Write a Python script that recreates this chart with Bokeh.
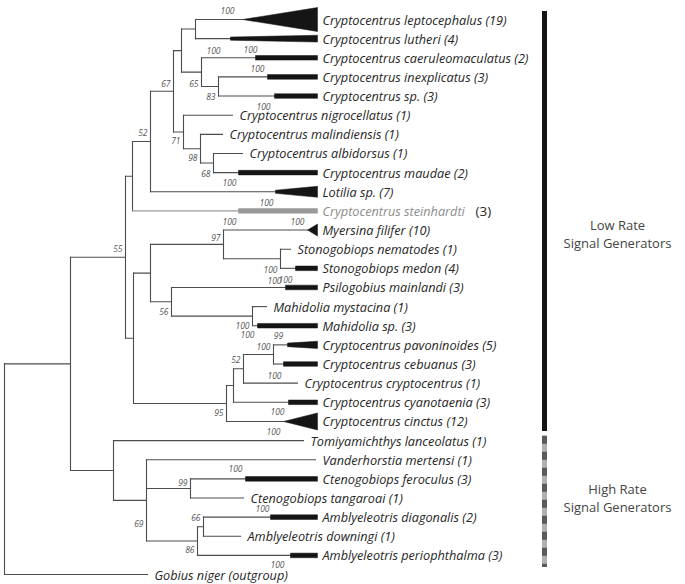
from bokeh.plotting import figure
from bokeh.models import Range1d, ColumnDataSource
from bokeh.core.properties import value
from bokeh.embed import file_html
from bokeh.resources import INLINE

# ---------------- data ----------------
taxa = ["Cryptocentrus leptocephalus", "Cryptocentrus lutheri", "Cryptocentrus caeruleomaculatus",
        "Cryptocentrus inexplicatus", "Cryptocentrus sp.", "Cryptocentrus nigrocellatus",
        "Cryptocentrus malindiensis", "Cryptocentrus albidorsus", "Cryptocentrus maudae",
        "Lotilia sp.", "Cryptocentrus steinhardti", "Myersina filifer", "Stonogobiops nematodes",
        "Stonogobiops medon", "Psilogobius mainlandi", "Mahidolia mystacina", "Mahidolia sp.",
        "Cryptocentrus pavoninoides", "Cryptocentrus cebuanus", "Cryptocentrus cryptocentrus",
        "Cryptocentrus cyanotaenia", "Cryptocentrus cinctus", "Tomiyamichthys lanceolatus",
        "Vanderhorstia mertensi", "Ctenogobiops feroculus", "Ctenogobiops tangaroai",
        "Amblyeleotris diagonalis", "Amblyeleotris downingi", "Amblyeleotris periophthalma",
        "Gobius niger"]
n_seq = [19, 4, 2, 3, 3, 1, 1, 1, 2, 7, 3, 10, 1, 4, 3, 1, 3, 5, 3, 1, 3, 12, 1, 1, 3, 1, 2, 1, 3, None]
# depth (horizontal position) where each tip's thin branch ends
tip_depth = [242, 230, 255, 267, 274, 232, 222, 242, 238, 275, 238, 307, 290, 295, 285, 266, 257,
             287, 283, 297, 288, 283, 303, 315, 245, 243, 270, 240, 290, 147]
clade_shape = ["tri", "bar", "bar", "bar", "bar", "", "", "", "bar", "bar", "bar", "tri", "", "bar",
               "bar", "", "bar", "bar", "bar", "", "bar", "tri", "", "", "bar", "", "bar", "", "bar", ""]
tip_support = [100, 100, 100, 100, 100, None, None, None, 100, 100, 100, 100, None, 100, 100, None,
               100, 99, 100, None, 100, 100, None, None, 100, None, 100, None, 100, None]

node_ids = ["A", "B", "C", "D", "E", "F", "G", "H", "I", "J", "K", "L", "M", "N", "O", "P", "Q",
            "R", "S", "T", "U", "V", "W", "X", "Y", "Z", "AA", "ROOT"]
node_depth = [195, 218, 201, 181, 213, 200, 183, 173, 150, 132, 280, 223, 252, 171, 150, 273, 243,
              233, 226, 133, 125, 190, 203, 197, 146, 113, 70, 4]
node_kids = [[0, 1], [3, 4], [2, "B"], ["A", "C"], [7, 8], [6, "E"], [5, "F"], ["D", "G"], ["H", 9],
             ["I", 10], [12, 13], [11, "K"], [15, 16], [14, "M"], ["L", "N"], [17, 18], ["P", 19],
             ["Q", 20], ["R", 21], ["O", "S"], ["J", "T"], [24, 25], [26, 27], ["W", 28],
             [23, "V", "X"], [22, "Y"], ["U", "Z"], ["AA", 29]]
node_support = [None, 83, 65, None, 68, 98, 71, 67, 52, None, 100, 97, 100, 56, None, 100, 52,
                None, 95, None, 55, 99, 66, 86, 69, None, None, None]

group_line1 = ["Low Rate", "High Rate"]
group_line2 = ["Signal Generators", "Signal Generators"]
group_first = [0, 22]
group_last = [21, 28]

# ---------------- layout / style ----------------
ROW_TOP_PX, ROW_STEP_PX = 19.0, 19.14
def px(h):
    return h / ROW_STEP_PX

W, H = 685, 584
CLADE_END = 317
LINE_COL = "#4d4d4d"
TEXT_COL = "#262626"
GRAY = "#8c8c8c"
FONT = value("Open Sans")

clade_half = {0: (0, 12), 1: (1.6, 3.4), 9: (1.6, 5.5), 11: (0, 6), 17: (1.8, 3.6), 21: (0, 8.5)}
bar_half = (2.3, 2.3)
# support label offsets (px) relative to tip start / node
tip_sup_off = {0: (-15, -9), 1: (-17, 12), 2: (-5, -8), 3: (-10, -8), 4: (-11, 10), 8: (-9, 10),
               9: (-9, 11), 10: (-9, 11), 11: (-10, -9), 13: (-21, 12), 14: (0, -8), 16: (-10, 9),
               17: (-9, -9), 18: (-9, 11), 20: (-11, 9), 21: (-10, 10), 24: (-10, -10),
               26: (-8, -9), 28: (-13, 9)}
node_sup_off = {"B": 10.5, "C": 11, "E": 10.5, "F": 9, "G": 9, "H": -7.5, "I": -9, "K": 10.5,
                "L": -7, "M": 9.5, "N": 10, "P": -7.5, "Q": -9, "S": 9.5, "U": -9, "V": -5.5,
                "W": -9, "X": 8.5, "Y": 23}
group_text_off = [14, 0]

p = figure(width=W, height=H, x_range=Range1d(0, W),
           y_range=Range1d((H - ROW_TOP_PX) / ROW_STEP_PX, (0 - ROW_TOP_PX) / ROW_STEP_PX),
           x_axis_type=None, y_axis_type=None, output_backend="svg", toolbar_location=None,
           min_border=0)
p.grid.visible = False
p.outline_line_color = None

# ---- tree geometry ----
depth = {i: d for i, d in enumerate(tip_depth)}
kids = {}
for nid, d, k in zip(node_ids, node_depth, node_kids):
    depth[nid] = d
    kids[nid] = k
ypos = {i: float(i) for i in range(len(taxa))}

def gety(n):
    if n in ypos:
        return ypos[n]
    ys = [gety(c) for c in kids[n]]
    ypos[n] = (ys[0] + ys[-1]) / 2.0
    return ypos[n]

for nid in node_ids:
    gety(nid)

seg = dict(x0=[], y0=[], x1=[], y1=[], c=[])
for nid in node_ids:
    ks = kids[nid]
    seg["x0"].append(depth[nid]); seg["x1"].append(depth[nid])
    seg["y0"].append(ypos[ks[0]]); seg["y1"].append(ypos[ks[-1]]); seg["c"].append(LINE_COL)
    for c in ks:
        seg["x0"].append(depth[nid]); seg["x1"].append(depth[c])
        seg["y0"].append(ypos[c]); seg["y1"].append(ypos[c])
        seg["c"].append("#9a9a9a" if c == 10 else LINE_COL)
p.segment(x0="x0", y0="y0", x1="x1", y1="y1", line_color="c", line_width=1.1,
          line_cap="square", source=ColumnDataSource(seg))

# ---- collapsed clades ----
xs, ys, fc = [], [], []
for i, s in enumerate(clade_shape):
    if not s:
        continue
    h0, h1 = clade_half.get(i, bar_half)
    y = ypos[i]
    t = tip_depth[i]
    xs.append([t, CLADE_END, CLADE_END, t])
    ys.append([y - px(h0), y - px(h1), y + px(h1), y + px(h0)])
    fc.append("#999999" if i == 10 else "#151515")
p.patches(xs=xs, ys=ys, fill_color=fc, line_color=fc, line_width=0.5)

# ---- taxon labels ----
lab = dict(x=[], y=[], t=[], c=[])
for i, name in enumerate(taxa):
    lx = CLADE_END + 5 if clade_shape[i] else tip_depth[i] + 7
    if n_seq[i] is None:
        txt = name + " (outgroup)"
    elif i == 10:
        txt = name
    else:
        txt = f"{name} ({n_seq[i]})"
    lab["x"].append(lx); lab["y"].append(ypos[i]); lab["t"].append(txt)
    lab["c"].append(GRAY if i == 10 else TEXT_COL)
p.text(x="x", y="y", text="t", text_color="c", text_font=FONT, text_font_style="italic",
       text_font_size="12.7px", text_baseline="middle", source=ColumnDataSource(lab))
p.text(x=[CLADE_END + 158], y=[ypos[10]], text=[f"({n_seq[10]})"], text_color=TEXT_COL,
       text_font=FONT, text_font_size="13.5px", text_baseline="middle")

# ---- support values ----
sx, sy, st = [], [], []
for i, v in enumerate(tip_support):
    if v is None:
        continue
    dx, dy = tip_sup_off[i]
    sx.append(tip_depth[i] + dx); sy.append(ypos[i] + px(dy)); st.append(str(v))
p.text(x=sx, y=sy, text=st, text_color="#555555", text_font=FONT, text_font_style="italic",
       text_font_size="8.5px", text_align="center", text_baseline="middle")
nx, ny, nt = [], [], []
for nid, v in zip(node_ids, node_support):
    if v is None:
        continue
    nx.append(depth[nid] - 3); ny.append(ypos[nid] + px(node_sup_off[nid])); nt.append(str(v))
p.text(x=nx, y=ny, text=nt, text_color="#555555", text_font=FONT, text_font_style="italic",
       text_font_size="8.5px", text_align="right", text_baseline="middle")

# ---- signal generator groups ----
BAR_X = 544
p.segment(x0=[BAR_X], y0=[group_first[0] - 0.45], x1=[BAR_X], y1=[group_last[0] + 0.5],
          line_color="#151515", line_width=5)
p.segment(x0=[BAR_X], y0=[group_first[1] - 0.25], x1=[BAR_X], y1=[group_last[1] + 0.6],
          line_color="#b0b0b0", line_width=5)
p.segment(x0=[BAR_X], y0=[group_first[1] - 0.25], x1=[BAR_X], y1=[group_last[1] + 0.6],
          line_color="#5a5a5a", line_width=5, line_dash="8 8")
gx, gy, gt = [], [], []
for l1, l2, f, l, off in zip(group_line1, group_line2, group_first, group_last, group_text_off):
    c = (f + l) / 2.0 + px(off)
    gx += [617, 617]; gy += [c - px(9), c + px(9)]; gt += [l1, l2]
p.text(x=gx, y=gy, text=gt, text_color="#444444", text_font=FONT, text_font_size="13px",
       text_align="center", text_baseline="middle")

open("out.html", "w").write(file_html(p, INLINE))
